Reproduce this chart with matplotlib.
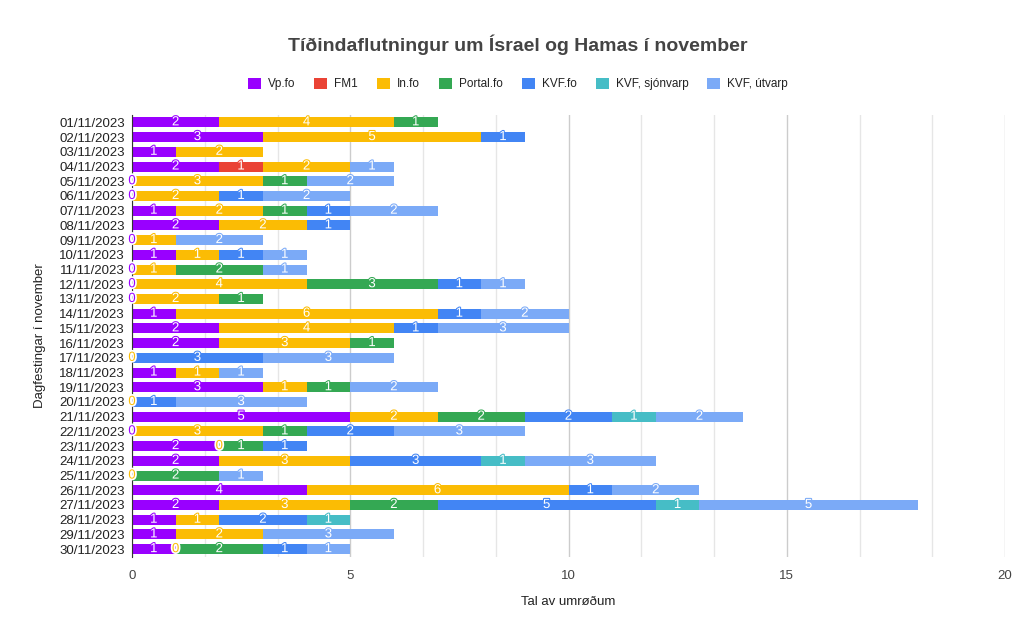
import numpy as np
import matplotlib
matplotlib.use("Agg")
import matplotlib.pyplot as plt
import matplotlib.patheffects as pe

plt.rcParams['font.family'] = ['Liberation Sans', 'DejaVu Sans']

dates = ["%02d/11/2023" % d for d in range(1, 31)]
series = ["Vp.fo", "FM1", "In.fo", "Portal.fo", "KVF.fo", "KVF, sjónvarp", "KVF, útvarp"]
colors = ["#9900ff", "#ea4335", "#fbbc04", "#34a853", "#4285f4", "#46bdc6", "#7baaf7"]

N = np.nan
# one list per source, one value per day (nan = no entry, 0 = entry with zero)
vp      = [2, 3, 1, 2, 0, 0, 1, 2, 0, 1, 0, 0, 0, 1, 2, 2, N, 1, 3, N, 5, 0, 2, 2, N, 4, 2, 1, 1, 1]
fm1     = [N, N, N, 1, N, N, N, N, N, N, N, N, N, N, N, N, N, N, N, N, N, N, N, N, N, N, N, N, N, N]
info    = [4, 5, 2, 2, 3, 2, 2, 2, 1, 1, 1, 4, 2, 6, 4, 3, 0, 1, 1, 0, 2, 3, 0, 3, 0, 6, 3, 1, 2, 0]
portal  = [1, N, N, N, 1, N, 1, N, N, N, 2, 3, 1, N, N, 1, N, N, 1, N, 2, 1, 1, N, 2, N, 2, N, N, 2]
kvf     = [N, 1, N, N, N, 1, 1, 1, N, 1, N, 1, N, 1, 1, N, 3, N, N, 1, 2, 2, 1, 3, N, 1, 5, 2, N, 1]
kvf_tv  = [N, N, N, N, N, N, N, N, N, N, N, N, N, N, N, N, N, N, N, N, 1, N, N, 1, N, N, 1, 1, N, N]
kvf_utv = [N, N, N, 1, 2, 2, 2, N, 2, 1, 1, 1, N, 2, 3, N, 3, 1, 2, 3, 2, 3, N, 3, 1, 2, 5, N, 3, 1]

data = [vp, fm1, info, portal, kvf, kvf_tv, kvf_utv]

fig = plt.figure(figsize=(10.36, 6.44), dpi=100)
ax = fig.add_axes([132 / 1036, 1 - 556.5 / 644, 873 / 1036, 441.5 / 644])

y = np.arange(len(dates))
left = np.zeros(len(dates))
for name, vals, col in zip(series, data, colors):
    v = np.array(vals, dtype=float)
    w = np.nan_to_num(v)
    ax.barh(y, w, left=left, height=0.68, color=col, label=name, zorder=3)
    for i, val in enumerate(v):
        if np.isnan(val):
            continue
        if val == 0:
            ax.text(left[i], y[i], "0", ha="center", va="center", fontsize=9.5,
                    color=col, zorder=5,
                    path_effects=[pe.withStroke(linewidth=2.5, foreground="white")])
        else:
            ax.text(left[i] + val / 2, y[i], "%d" % val, ha="center", va="center",
                    fontsize=9.5, color="white", zorder=5,
                    path_effects=[pe.withStroke(linewidth=1.5, foreground=col)])
    left = left + w

ax.set_xlim(0, 20)
ax.set_ylim(len(dates) - 0.5, -0.5)
ax.set_yticks(y)
ax.set_yticklabels(dates, fontsize=9.5, color="#222222")
ax.set_xticks([0, 5, 10, 15, 20])
ax.set_xticklabels(["0", "5", "10", "15", "20"], fontsize=9.5, color="#444444")
ax.set_xticks(np.arange(0, 20.01, 5 / 3), minor=True)
ax.tick_params(axis="both", length=0, which="both")
ax.tick_params(axis="x", pad=10)
ax.tick_params(axis="y", pad=5)
ax.grid(axis="x", which="minor", color="#e6e6e6", linewidth=1, zorder=0)
ax.grid(axis="x", which="major", color="#cccccc", linewidth=1, zorder=0)
for s in ["top", "right", "bottom"]:
    ax.spines[s].set_visible(False)
ax.spines["left"].set_color("#333333")
ax.spines["left"].set_zorder(4)

ax.set_xlabel("Tal av umrøðum", fontsize=9.5, color="#222222", labelpad=10)
ax.set_ylabel("Dagfestingar í november", fontsize=9.5, color="#222222", labelpad=10)

fig.text(0.5, 1 - 45 / 644, "Tíðindaflutningur um Ísrael og Hamas í november",
         ha="center", va="center", fontsize=14, fontweight="bold", color="#444444")

handles, labels = ax.get_legend_handles_labels()
fig.legend(handles, labels, loc="center", bbox_to_anchor=(0.5, 1 - 84 / 644), ncol=7,
           frameon=False, fontsize=8.5, labelcolor="#222222",
           handlelength=1.1, handleheight=1.1,
           handletextpad=0.6, columnspacing=1.6)

fig.savefig("out.png", dpi=100)
